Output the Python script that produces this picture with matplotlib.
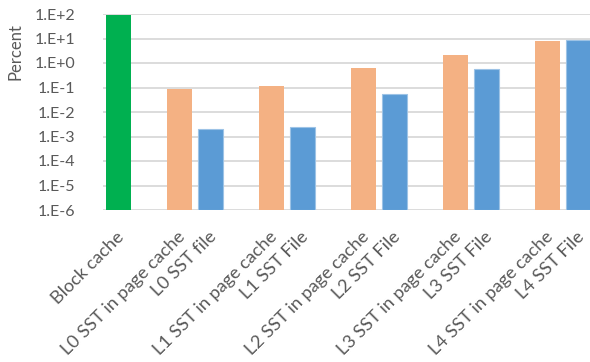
import matplotlib
matplotlib.use("Agg")
import matplotlib.pyplot as plt
import numpy as np

plt.rcParams["font.family"] = ["Lato", "DejaVu Sans"]

# ── data (percent) ───────────────────────────────────────────────────────────
levels = ["L0", "L1", "L2", "L3", "L4"]
block_cache = 93.0
page_cache = [0.09, 0.11, 0.63, 2.1, 7.6]
sst_file = [0.002, 0.0024, 0.054, 0.56, 8.9]
labels = ["Block cache",
          "L0 SST in page cache", "L0 SST file",
          "L1 SST in page cache", "L1 SST File",
          "L2 SST in page cache", "L2 SST File",
          "L3 SST in page cache", "L3 SST File",
          "L4 SST in page cache", "L4 SST File"]

GREEN = "#00B050"
ORANGE = "#F4B183"
BLUE = "#5B9BD5"
GRID = "#D9D9D9"
TXT = "#595959"

# ── figure ───────────────────────────────────────────────────────────────────
fig = plt.figure(figsize=(5.9, 3.62), dpi=100)
ax = fig.add_axes([103 / 590, 1 - 210 / 362, 487 / 590, 196 / 362])

off, w = 0.17, 0.27
bottom = 1e-6
groups = np.arange(1, len(levels) + 1)

ax.bar(0 + off, block_cache - bottom, w, bottom=bottom, color=GREEN, zorder=3)
ax.bar(groups - off, np.array(page_cache) - bottom, w, bottom=bottom,
       color=ORANGE, zorder=3)
ax.bar(groups + off, np.array(sst_file) - bottom, w, bottom=bottom,
       color=BLUE, edgecolor="#9DC3E6", linewidth=0.8, zorder=3)

ax.set_yscale("log")
ax.set_ylim(1e-6, 1e2)
ax.set_xlim(0, 5.293)

yt = [10.0 ** e for e in range(-6, 3)]
ax.set_yticks(yt)
ax.set_yticklabels([f"1.E{e:+d}" for e in range(-6, 3)], color=TXT, fontsize=11.5)
ax.yaxis.set_minor_locator(matplotlib.ticker.NullLocator())
ax.tick_params(axis="y", length=0, pad=20)
for v in yt:
    ax.axhline(v, color=GRID, linewidth=1.3, zorder=1)

ax.set_xticks([])
for s in ax.spines.values():
    s.set_visible(False)

# category labels, one under every bar
xpos = [0 + off]
for g in groups:
    xpos += [g - off, g + off]
for x, lab in zip(xpos, labels):
    ax.text(x - 0.03, -0.095, lab, transform=ax.get_xaxis_transform(),
            rotation=45, rotation_mode="anchor", ha="right", va="top",
            fontsize=13.1, color=TXT)

fig.text(16 / 590, 1 - 52 / 362, "Percent", rotation=90, ha="center",
         va="center", fontsize=12, color=TXT)

fig.savefig("out.png", dpi=100, facecolor="white")
